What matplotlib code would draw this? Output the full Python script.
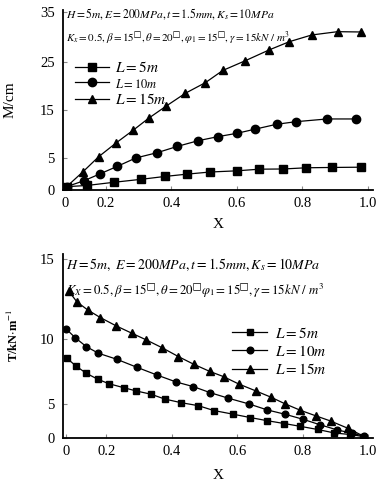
import matplotlib
matplotlib.use("Agg")
import matplotlib.pyplot as plt
import numpy as np

plt.rcParams['font.family'] = ['Liberation Serif', 'DejaVu Sans']
plt.rcParams['mathtext.fontset'] = 'stix'

# ---- top panel: M/cm vs X ----
top_x_5 = [0.008, 0.107, 0.225, 0.309, 0.38, 0.447, 0.519, 0.599, 0.669, 0.741, 0.812, 0.891, 0.977]
top_y_5 = [0.52, 0.7, 1.2, 1.67, 2.11, 2.47, 2.81, 2.99, 3.25, 3.28, 3.47, 3.52, 3.56]
top_x_10 = [0.008, 0.094, 0.171, 0.236, 0.292, 0.357, 0.418, 0.482, 0.542, 0.601, 0.654, 0.721, 0.78, 0.875, 0.963]
top_y_10 = [0.52, 1.45, 2.5, 3.7, 5.0, 6.1, 7.4, 8.6, 9.44, 10.15, 10.98, 12.02, 12.56, 13.13, 13.13]
top_x_15 = [0.008, 0.089, 0.166, 0.233, 0.285, 0.331, 0.385, 0.443, 0.504, 0.557, 0.626, 0.698, 0.76, 0.828, 0.907, 0.979]
top_y_15 = [0.52, 2.86, 5.27, 8.19, 10.83, 13.27, 15.83, 18.48, 20.69, 23.23, 25.26, 27.4, 29.06, 30.4, 31.06, 31.0]

# ---- bottom panel ----
bot_x_5 = [0.004, 0.049, 0.10, 0.157, 0.207, 0.253, 0.291, 0.336, 0.378, 0.428, 0.481, 0.528, 0.588,
           0.639, 0.692, 0.743, 0.792, 0.846, 0.897, 0.945, 0.985]
bot_y_5 = [8.52, 7.92, 7.36, 6.9, 6.56, 6.25, 6.0, 5.75, 5.38, 5.1, 4.75, 4.04, 3.49,
           3.01, 2.54, 2.13, 1.72, 1.25, 0.74, 0.51, 0.22]
bot_x_10 = [0.0, 0.045, 0.10, 0.16, 0.231, 0.293, 0.356, 0.413, 0.466, 0.517, 0.573, 0.636, 0.692,
            0.746, 0.801, 0.852, 0.906, 0.952, 0.986]
bot_y_10 = [10.63, 10.08, 9.41, 8.9, 8.44, 7.82, 7.21, 6.69, 6.33, 5.87, 5.44, 5.0, 4.12,
            3.49, 2.75, 1.96, 1.18, 0.69, 0.29]
bot_x_15 = [0.015, 0.054, 0.107, 0.17, 0.23, 0.277, 0.322, 0.371, 0.42, 0.467, 0.516, 0.558, 0.604,
            0.657, 0.703, 0.747, 0.793, 0.841, 0.885, 0.938, 0.989]
bot_y_15 = [12.96, 12.31, 11.81, 11.33, 10.81, 10.36, 9.92, 9.31, 8.64, 8.05, 7.5, 7.1, 6.54,
            6.0, 5.52, 5.0, 4.07, 3.24, 2.5, 1.43, 0.19]

labels = [r"$L=5m$", r"$L=10m$", r"$L=15m$"]
x_ticks = [0, 0.2, 0.4, 0.6, 0.8, 1.0]
x_ticklabels = ["0", "0.2", "0.4", "0.6", "0.8", "1.0"]
top_yticks = [0, 5, 15, 25, 35]
bot_yticks = [0, 5, 10, 15]


def piecewise(xp, fp):
    xp = np.asarray(xp, float)
    fp = np.asarray(fp, float)

    def f(v):
        v = np.asarray(v, float)
        out = np.interp(v, xp, fp)
        lo_slope = (fp[1] - fp[0]) / (xp[1] - xp[0])
        hi_slope = (fp[-1] - fp[-2]) / (xp[-1] - xp[-2])
        out = np.where(v < xp[0], fp[0] + (v - xp[0]) * lo_slope, out)
        out = np.where(v > xp[-1], fp[-1] + (v - xp[-1]) * hi_slope, out)
        return out
    return f


# the original axes are not evenly spaced, so use piecewise scales
x_knots, x_pix = [0, 0.2, 1.0], [0, 40.5, 302.5]
top_knots, top_pix = [0, 5, 15, 25, 35], [0, 32, 80, 128, 178]
bot_knots, bot_pix = [0, 5, 10, 15], [0, 34, 99, 179]

fig = plt.figure(figsize=(3.9, 4.87), dpi=100)
ax1 = fig.add_axes([0.1615, 0.6099, 0.795, 0.3696])
ax2 = fig.add_axes([0.1615, 0.1006, 0.795, 0.3778])

for ax, yk, yp in [(ax1, top_knots, top_pix), (ax2, bot_knots, bot_pix)]:
    ax.set_xscale('function', functions=(piecewise(x_knots, x_pix), piecewise(x_pix, x_knots)))
    ax.set_yscale('function', functions=(piecewise(yk, yp), piecewise(yp, yk)))

style = dict(color='black', lw=0.9)
ax1.plot(top_x_5, top_y_5, marker='s', ms=5.4, label=labels[0], **style)
ax1.plot(top_x_10, top_y_10, marker='o', ms=6.0, label=labels[1], **style)
ax1.plot(top_x_15, top_y_15, marker='^', ms=6.4, label=labels[2], **style)

ax2.plot(bot_x_5, bot_y_5, marker='s', ms=4.5, label=labels[0], **style)
ax2.plot(bot_x_10, bot_y_10, marker='o', ms=4.8, label=labels[1], **style)
ax2.plot(bot_x_15, bot_y_15, marker='^', ms=5.2, label=labels[2], **style)

ax1.set_xlim(-0.01, 1.015)
ax1.set_ylim(0, 35.4)
ax1.set_yticks(top_yticks)
ax2.set_xlim(-0.015, 1.015)
ax2.set_ylim(0, 15.3)
ax2.set_yticks(bot_yticks)

for ax in (ax1, ax2):
    ax.set_xticks(x_ticks)
    ax.set_xticklabels(x_ticklabels)
    ax.minorticks_off()
    ax.spines['top'].set_visible(False)
    ax.spines['right'].set_visible(False)
    ax.spines['left'].set_linewidth(1.3)
    ax.spines['bottom'].set_linewidth(1.3)
    ax.tick_params(direction='in', length=3, width=0.8, color='#888888', labelsize=10.5, pad=6)
    ax.tick_params(axis='x', pad=5)
    ax.set_xlabel("X", fontsize=11)

ax1.xaxis.set_label_coords(0.5, -0.155)
ax2.xaxis.set_label_coords(0.5, -0.17)

ax1.set_ylabel("M/cm", fontsize=11)
ax1.yaxis.set_label_coords(-0.15, 0.5)
ax2.set_ylabel(r"T/kN$\cdot$m$^{-1}$", fontsize=9, fontweight='bold')
ax2.yaxis.set_label_coords(-0.135, 0.56)

ax1.text(0.01, 0.975, r"$H=5m,E=200MPa,t=1.5mm,K_s=10MPa$",
         transform=ax1.transAxes, fontsize=8.3, va='center', ha='left')
ax1.text(0.01, 0.84, r"$K_x=0.5,\beta=15^{□},\theta=20^{□},\varphi_1=15^{□},\gamma=15kN\ /\ m^3$",
         transform=ax1.transAxes, fontsize=7.9, va='center', ha='left')
ax2.text(0.01, 0.94, r"$H=5m,\ E=200MPa,t=1.5mm,K_s=10MPa$",
         transform=ax2.transAxes, fontsize=10, va='center', ha='left')
ax2.text(0.01, 0.80, r"$K_X=0.5,\beta=15^{□},\theta=20^{□}\varphi_1=15^{□},\gamma=15kN\ /\ m^3$",
         transform=ax2.transAxes, fontsize=9.3, va='center', ha='left')

leg1 = ax1.legend(loc='upper left', bbox_to_anchor=(0.04, 0.72), frameon=False, fontsize=11,
                  handlelength=2.2, handletextpad=0.4, labelspacing=0.1, borderpad=0, borderaxespad=0)
leg1.get_texts()[1].set_fontsize(9)
ax2.legend(loc='upper left', bbox_to_anchor=(0.545, 0.61), frameon=False, fontsize=11,
           handlelength=2.3, handletextpad=0.5, labelspacing=0.2, borderpad=0, borderaxespad=0)

fig.savefig("out.png", dpi=100)
